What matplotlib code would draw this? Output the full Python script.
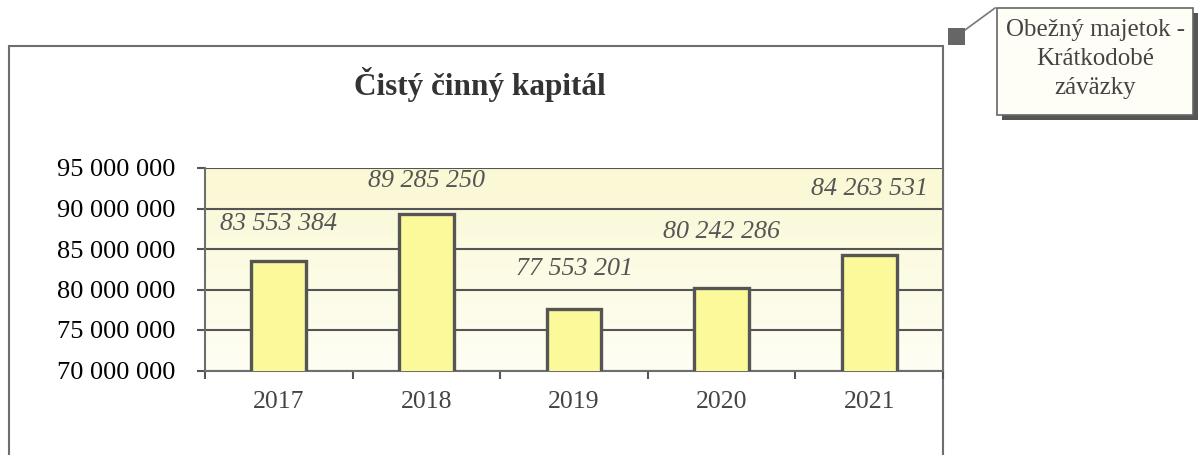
import matplotlib.pyplot as plt
import numpy as np
from matplotlib.patches import Rectangle
from matplotlib.colors import LinearSegmentedColormap

# data
years = ["2017", "2018", "2019", "2020", "2021"]
values = [83553384, 89285250, 77553201, 80242286, 84263531]
label_texts = ["83 553 384", "89 285 250", "77 553 201", "80 242 286", "84 263 531"]
yticks = [70000000, 75000000, 80000000, 85000000, 90000000, 95000000]

# how far each value label centre sits above its bar (points)
label_offsets = [26.5, 24, 29, 40, 47.5]

plt.rcParams['font.family'] = ['Liberation Serif', 'DejaVu Serif']

W, H = 1203, 455
fig = plt.figure(figsize=(W / 100, H / 100), dpi=100)
fig.patch.set_facecolor('white')

# outer chart frame (bottom edge runs off the picture)
fig.add_artist(Rectangle((8.5 / W, -0.2), (943 - 8.5) / W, 1.2 - 46 / H,
                         transform=fig.transFigure, fill=False, edgecolor='#6e6e6e',
                         linewidth=1.5, zorder=0))

ax = fig.add_axes([205 / W, 1 - 370.5 / H, (943 - 205) / W, (370.5 - 168) / H])
ax.set_facecolor('none')

# gradient background in plot area
grad = np.linspace(0, 1, 256).reshape(-1, 1)
cmap = LinearSegmentedColormap.from_list('bg', ['#fefef4', '#fbf8d4'])
ax.imshow(grad, aspect='auto', cmap=cmap, origin='lower',
          extent=[-0.5, len(years) - 0.5, yticks[0], yticks[-1]], zorder=0)

x = np.arange(len(years))
ax.bar(x, values, width=0.37, color='#fcf99a', edgecolor='#555555', linewidth=2.4, zorder=3)

for xi, v, t, off in zip(x, values, label_texts, label_offsets):
    ax.annotate(t, (xi, v), xytext=(0, off), textcoords='offset points',
                ha='center', va='center', fontsize=18.7, style='italic', color='#555555',
                zorder=4)

ax.set_xlim(-0.5, len(years) - 0.5)
ax.set_ylim(yticks[0], yticks[-1])
ax.set_yticks(yticks)
ax.set_yticklabels([f"{v:,}".replace(",", " ") for v in yticks], fontsize=19, color='black')
ax.yaxis.grid(True, color='#555555', linewidth=1.5, zorder=1)
ax.set_axisbelow(True)

ax.set_xticks(x)
ax.set_xticklabels(years, fontsize=18.5, color='#444444')
ax.set_xticks(np.arange(-0.5, len(years)), minor=True)
ax.tick_params(axis='x', which='major', length=0, pad=15)
ax.tick_params(axis='x', which='minor', length=6, width=1.5, color='#555555', direction='out')
ax.tick_params(axis='y', length=6, width=1.5, color='#555555', direction='out', pad=15)

for s in ['left', 'bottom', 'right']:
    ax.spines[s].set_color('#6e6e6e')
    ax.spines[s].set_linewidth(1.5)
ax.spines['top'].set_visible(False)

fig.text(480 / W, 1 - 84 / H, "Čistý činný kapitál", ha='center', va='center',
         fontsize=22.5, fontweight='bold', color='#333333')

# callout box with shadow
bx, by, bw, bh = 997 / W, 1 - 115 / H, 196 / W, 107 / H
fig.add_artist(Rectangle((bx + 5 / W, by - 5 / H), bw, bh, transform=fig.transFigure,
                         facecolor='#555555', edgecolor='none', zorder=5))
fig.add_artist(Rectangle((bx, by), bw, bh, transform=fig.transFigure,
                         facecolor='#fefef6', edgecolor='#666666', linewidth=1.2, zorder=6))
fig.text(bx + bw / 2, 1 - 59 / H, "Obežný majetok -\nKrátkodobé\nzáväzky", ha='center',
         va='center', fontsize=18, color='#444444', linespacing=1.4, zorder=7)
fig.add_artist(plt.Line2D([965 / W, 995 / W], [1 - 30 / H, 1 - 8 / H],
                          transform=fig.transFigure, color='#777777', linewidth=1.2, zorder=5))
fig.add_artist(Rectangle((948 / W, 1 - 45 / H), 17 / W, 17 / H,
                         transform=fig.transFigure, facecolor='#666666',
                         edgecolor='none', zorder=6))

fig.savefig('out.png', dpi=100)
